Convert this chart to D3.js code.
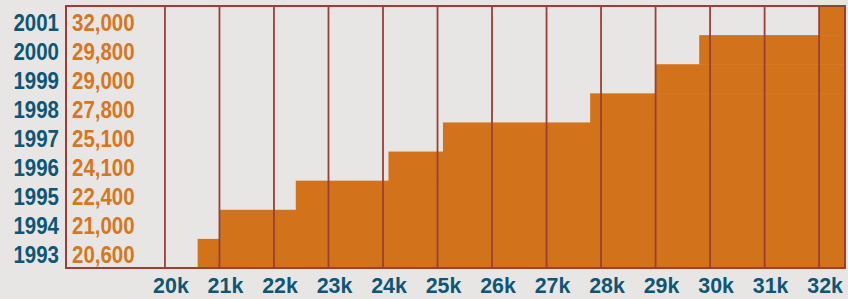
<!DOCTYPE html>
<html>
    <body style="margin:0;background:#e8e6e4;">
        <svg></svg>
        <script src="https://d3js.org/d3.v7.min.js"></script>
        <script>
            const width = 848;
            const height = 299;

            // data
            const years = ['2001', '2000', '1999', '1998', '1997', '1996', '1995', '1994', '1993'];
            const values = [32000, 29800, 29000, 27800, 25100, 24100, 22400, 21000, 20600];
            const ticks = [20000, 21000, 22000, 23000, 24000, 25000, 26000, 27000, 28000, 29000, 30000, 31000, 32000];

            const plot = {left: 66, right: 845, top: 6, bottom: 268};
            const orange = '#d2731c';
            const rule = '#9b3f36';
            const blue = '#0d5676';
            const font = '"Liberation Sans", Arial, sans-serif';

            const svg = d3.select('svg')
                .attr('width', width).attr('height', height)
                .style('display', 'block');

            svg.append('rect')
                .attr('width', width).attr('height', height)
                .attr('fill', '#e8e6e4');

            const x = d3.scaleLinear()
                .domain([18185, 32475])
                .range([plot.left, plot.right]);

            const y = d3.scaleBand()
                .domain(years)
                .range([plot.top, plot.bottom])
                .padding(0);

            const rows = years.map((yr, i) => ({year: yr, value: values[i]}));

            // bars: each year runs from its value out to the right edge
            svg.append('g').selectAll('rect')
                .data(rows)
                .enter().append('rect')
                .attr('x', d => x(d.value))
                .attr('y', d => y(d.year))
                .attr('width', d => x.range()[1] - x(d.value))
                .attr('height', y.bandwidth() + 0.5)
                .attr('fill', orange);

            // vertical rules
            svg.append('g').selectAll('line')
                .data(ticks)
                .enter().append('line')
                .attr('x1', d => x(d)).attr('x2', d => x(d))
                .attr('y1', plot.top).attr('y2', plot.bottom)
                .attr('stroke', rule)
                .attr('stroke-width', 1.8);

            // frame
            svg.append('rect')
                .attr('x', plot.left).attr('y', plot.top)
                .attr('width', plot.right - plot.left)
                .attr('height', plot.bottom - plot.top)
                .attr('fill', 'none')
                .attr('stroke', rule)
                .attr('stroke-width', 2);

            // lettering in the picture is condensed
            const squash = 'scale(0.89,1)';

            // year labels
            svg.append('g').selectAll('text')
                .data(rows)
                .enter().append('text')
                .attr('transform', d => `translate(${plot.left - 7},${y(d.year) + y.bandwidth() / 2 + 10}) ${squash}`)
                .attr('text-anchor', 'end')
                .style('font', 'bold 23px ' + font)
                .style('fill', blue)
                .text(d => d.year);

            // value labels
            svg.append('g').selectAll('text')
                .data(rows)
                .enter().append('text')
                .attr('transform', d => `translate(${plot.left + 6},${y(d.year) + y.bandwidth() / 2 + 10}) ${squash}`)
                .style('font', 'bold 23px ' + font)
                .style('fill', '#d7761f')
                .text(d => d3.format(',')(d.value));

            // x axis labels
            svg.append('g').selectAll('text')
                .data(ticks)
                .enter().append('text')
                .attr('transform', d => `translate(${x(d) + 6},293) scale(0.93,1)`)
                .attr('text-anchor', 'middle')
                .style('font', 'bold 23px ' + font)
                .style('fill', blue)
                .text(d => (d / 1000) + 'k');
        </script>
    </body>
</html>
